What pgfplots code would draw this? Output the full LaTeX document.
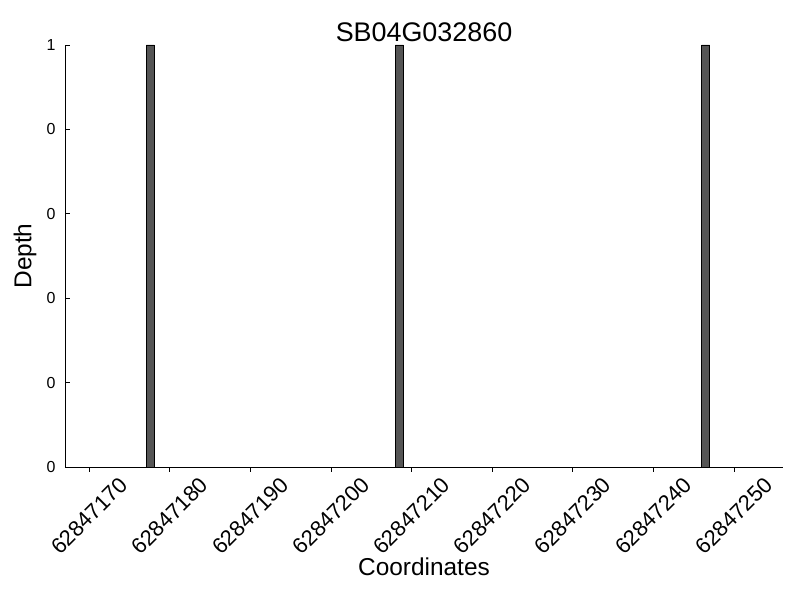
\documentclass[border=0pt]{standalone}
\usepackage{pgfplots}
\pgfplotsset{compat=1.18}
\usepackage{fontspec}
\setmainfont{Liberation Sans}
\definecolor{barfill}{RGB}{85,85,85}
\begin{document}
\begin{tikzpicture}[x=1bp,y=1bp]
\useasboundingbox (0,0) rectangle (800,600);
\begin{axis}[
  at={(65bp,133bp)}, anchor=south west,
  scale only axis, width=718bp, height=422bp,
  xmin=167.0, xmax=256.1, ymin=0, ymax=1,
  axis x line=bottom, axis y line=left,
  axis line style={-, line width=0.8pt},
  tick align=inside, major tick length=5bp,
  tick style={black, line width=0.6pt},
  xtick={170,180,190,200,210,220,230,240,250},
  xticklabels={62847170,62847180,62847190,62847200,62847210,62847220,62847230,62847240,62847250},
  ytick={0,0.2,0.4,0.6,0.8,1},
  yticklabels={0,0,0,0,0,1},
  x tick label style={rotate=45, anchor=center, xshift=-31bp, yshift=-31bp, font=\fontsize{22}{24}\selectfont, inner sep=0pt},
  y tick label style={font=\fontsize{16}{18}\selectfont, xshift=-6bp},
  title={SB04G032860},
  title style={font=\fontsize{27}{30}\selectfont, yshift=-6bp},
  xlabel={Coordinates},
  ylabel={Depth},
  label style={font=\fontsize{24.5}{27}\selectfont},
  xlabel style={at={(0.5,0)}, anchor=center, yshift=-100bp},
  ylabel style={at={(0,0.5)}, anchor=center, yshift=40bp},
  ybar, bar width=1, bar shift=0pt,
]
% x values are offsets from 62847000
\addplot[fill=barfill, draw=black, line width=0.9bp] coordinates {
  (177.6,1) (208.5,1) (246.5,1)
};
\end{axis}
\end{tikzpicture}
\end{document}
